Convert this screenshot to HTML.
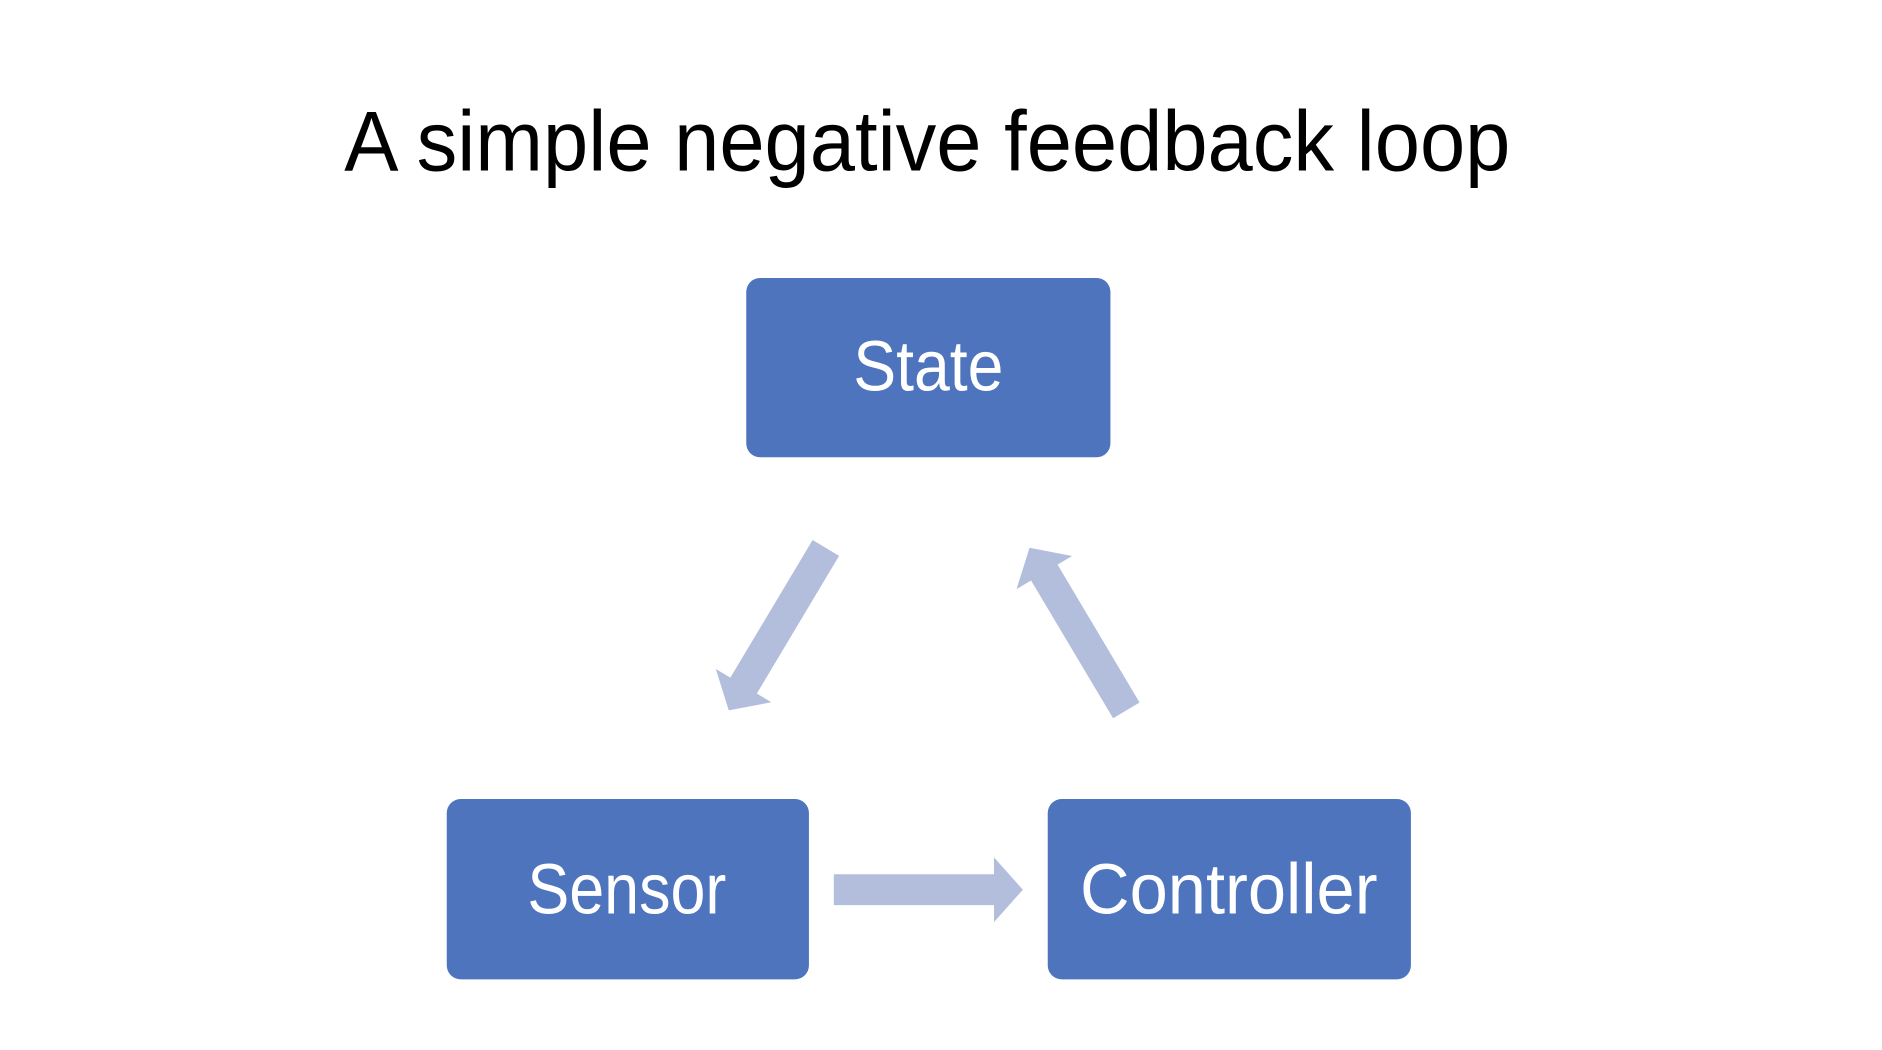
<!DOCTYPE html>
<html><head><meta charset="utf-8"><style>html,body{margin:0;padding:0;background:#fff;}svg{display:block}</style></head>
<body>
<svg width="1882" height="1050" viewBox="0 0 1882 1050" xmlns="http://www.w3.org/2000/svg">
<rect width="1882" height="1050" fill="#fff"/>
<g transform="scale(0.995,0.9963)">
<text x="346" y="171" font-family="Liberation Sans, sans-serif" font-size="86" fill="#000" textLength="1172" lengthAdjust="spacingAndGlyphs">A simple negative feedback loop</text>
<g fill="#4E74BD">
<rect x="750" y="279" width="366" height="180" rx="14"/>
<rect x="449" y="802" width="364" height="181" rx="14"/>
<rect x="1053" y="802" width="365" height="181" rx="14"/>
</g>
<g font-family="Liberation Sans, sans-serif" font-size="72" fill="#fff" text-anchor="middle">
<text x="933" y="392" textLength="151" lengthAdjust="spacingAndGlyphs">State</text>
<text x="630" y="917" textLength="200" lengthAdjust="spacingAndGlyphs">Sensor</text>
<text x="1235" y="917" textLength="299" lengthAdjust="spacingAndGlyphs">Controller</text>
</g>
<defs><path id="arr" d="M0,-15.5 L161,-15.5 L161,-32.5 L190,0 L161,32.5 L161,15.5 L0,15.5 Z"/></defs>
<g fill="#B3BEDD">
<use href="#arr" transform="translate(838,893)"/>
<use href="#arr" transform="translate(830,550) rotate(120.9)"/>
<use href="#arr" transform="translate(1132,713) rotate(-120.8)"/>
</g>
</g>
</svg>
</body></html>
